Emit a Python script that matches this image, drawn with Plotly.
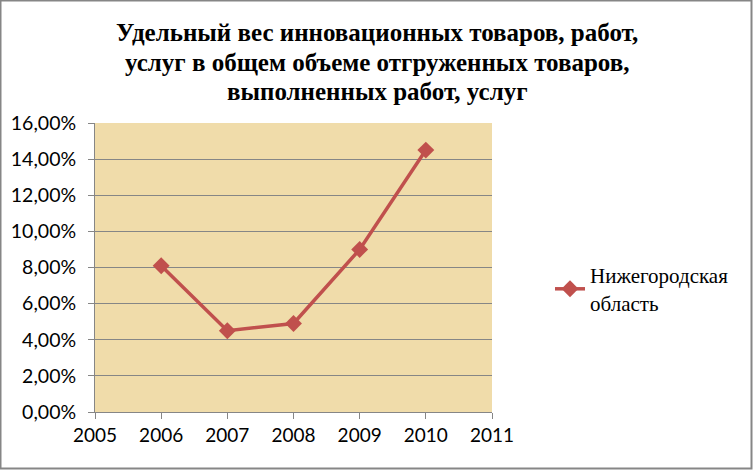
import plotly.graph_objects as go

years = [2006, 2007, 2008, 2009, 2010]
values = [8.1, 4.5, 4.9, 9.0, 14.5]
series_name = "Нижегородская<br>область"
title_lines = ["Удельный вес инновационных товаров, работ,",
               "услуг в общем объеме отгруженных товаров,",
               "выполненных работ, услуг"]
y_ticks = [0, 2, 4, 6, 8, 10, 12, 14, 16]
y_labels = [f"{v:.2f}%".replace(".", ",") for v in y_ticks]
x_ticks = [2005, 2006, 2007, 2008, 2009, 2010, 2011]

W, H = 753, 470
ml, mr, mt, mb = 95, 261, 123, 58
pw = W - ml - mr
ph = H - mt - mb

fig = go.Figure()
fig.add_trace(go.Scatter(
    x=years, y=values, mode="lines+markers", name=series_name,
    line=dict(color="#C0504D", width=3.5),
    marker=dict(symbol="diamond", size=13, color="#C0504D"),
))

title_centers = [32, 62, 92]
annotations = [dict(text=f"<b>{t}</b>", xref="paper", yref="paper",
                    x=(377 - ml) / pw, y=(412 - cy) / ph,
                    xanchor="center", yanchor="middle", showarrow=False,
                    font=dict(family="Liberation Serif", size=25, color="black"))
               for t, cy in zip(title_lines, title_centers)]

fig.update_layout(
    width=W, height=H,
    margin=dict(l=ml, r=mr, t=mt, b=mb),
    paper_bgcolor="white",
    plot_bgcolor="#F0DCAA",
    showlegend=True,
    legend=dict(x=(550 - ml) / pw, y=(412 - 289) / ph, xanchor="left", yanchor="middle",
                font=dict(family="Liberation Serif", size=21, color="black"),
                bgcolor="rgba(0,0,0,0)"),
    xaxis=dict(range=[2005, 2011], tickmode="array", tickvals=x_ticks,
               ticktext=[str(v) for v in x_ticks],
               showgrid=False, zeroline=False, showline=True, linecolor="#868686",
               linewidth=1, ticks="outside", ticklen=6, tickcolor="#868686",
               tickfont=dict(family="Lato", size=19, color="black")),
    yaxis=dict(range=[0, 16], tickmode="array", tickvals=y_ticks, ticktext=y_labels,
               showgrid=True, gridcolor="#868686", gridwidth=1, zeroline=False,
               showline=True, linecolor="#868686", linewidth=1,
               ticks="outside", ticklen=6, tickcolor="#868686",
               ticklabelstandoff=8,
               tickfont=dict(family="Lato", size=19.5, color="black")),
    shapes=[dict(type="rect", xref="paper", yref="paper",
                 x0=(-ml + 0.5) / pw, x1=(W - ml - 1.5) / pw,
                 y0=(-mb + 1.5) / ph, y1=(H - mb - 0.5) / ph,
                 line=dict(color="#868686", width=2), layer="below")],
    annotations=annotations,
)
fig.write_html("out.html", config={"displayModeBar": False},
               post_script="document.body.style.margin='0';document.body.style.overflow='hidden';")
